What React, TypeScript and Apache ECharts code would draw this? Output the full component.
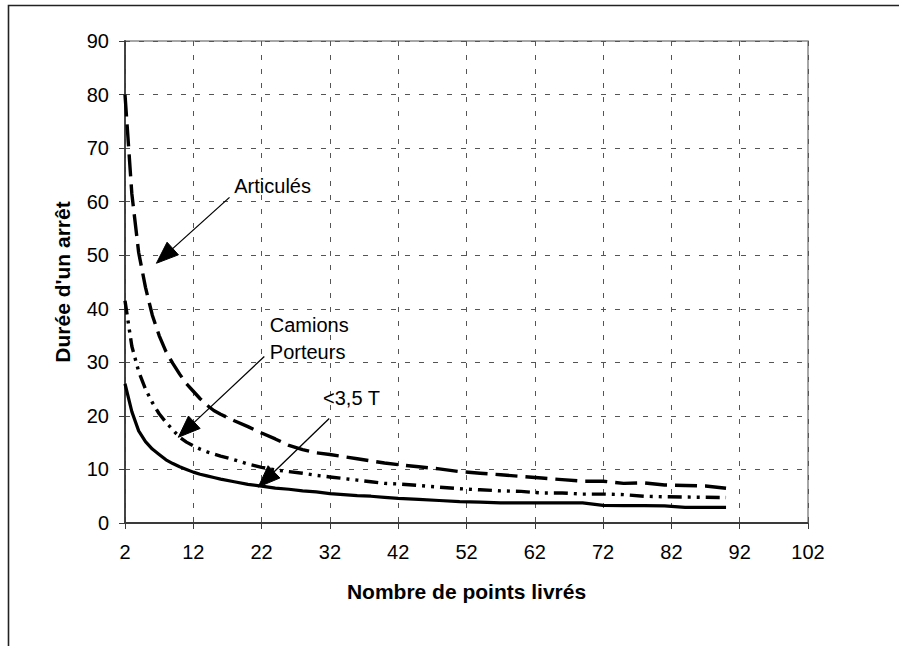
import React, { useEffect, useRef } from "react";
import * as echarts from "echarts";

// Nombre de points livrés
const xValues = [2, 3, 4, 5, 6, 7, 8, 9, 10, 11, 12, 13, 14, 15, 16, 18, 20, 22, 24, 26, 28, 30, 32, 34, 36, 38, 40, 42, 45, 48, 51, 54, 57, 60, 63, 66, 69, 72, 75, 78, 81, 84, 87, 90];

// Durée d'un arrêt – Articulés
const articules = [80, 61.5, 50.5, 44, 38.8, 35, 32, 29.8, 27.8, 26, 24.6, 23.2, 22, 21, 20.3, 19.1, 18.0, 16.8, 15.7, 14.5, 13.7, 13.1, 12.8, 12.4, 12.0, 11.6, 11.2, 10.9, 10.5, 10.1, 9.6, 9.3, 9.0, 8.7, 8.4, 8.1, 7.8, 7.8, 7.4, 7.5, 7.1, 7.0, 6.9, 6.5];

// Camions Porteurs
const camions = [41.5, 33, 28.3, 25, 22.5, 20.4, 18.8, 17.4, 16, 15.1, 14.4, 13.8, 13.3, 12.9, 12.5, 11.8, 11.0, 10.4, 9.9, 9.6, 9.3, 8.9, 8.6, 8.3, 8.0, 7.7, 7.4, 7.3, 7.0, 6.7, 6.4, 6.2, 6.0, 5.9, 5.6, 5.6, 5.4, 5.4, 5.3, 5.0, 4.9, 4.85, 4.8, 4.75];

// <3,5 T
const legers = [26, 20.8, 17.2, 15.2, 13.8, 12.8, 11.8, 11.1, 10.5, 10.0, 9.5, 9.1, 8.8, 8.5, 8.2, 7.7, 7.2, 6.9, 6.5, 6.3, 6.0, 5.8, 5.5, 5.3, 5.1, 5.0, 4.8, 4.6, 4.4, 4.2, 4.0, 3.9, 3.75, 3.75, 3.75, 3.75, 3.75, 3.3, 3.25, 3.25, 3.2, 2.9, 2.9, 2.9];

// Annotations (data coordinates)
const annotationTexts = [
  { lines: ["Articulés"], at: [18.0, 63.0] },
  { lines: ["Camions", "Porteurs"], at: [23.2, 36.9] },
  { lines: ["<3,5 T"], at: [31.0, 23.3] },
];
const annotationArrows = [
  { tail: [17.3, 60.8], tip: [6.6, 48.5] },
  { tail: [22.4, 31.1], tip: [9.8, 16.0] },
  { tail: [31.9, 19.5], tip: [21.5, 6.7] },
];

const FONT = '"Liberation Sans", Arial, sans-serif';

export default function App() {
  const ref = useRef<HTMLDivElement>(null);

  useEffect(() => {
    if (!ref.current) return;
    const chart = echarts.init(ref.current, undefined, { renderer: "svg" });

    const toPairs = (ys: number[]) => xValues.map((x, i) => [x, ys[i]]);

    const option: any = {
      animation: false,
      backgroundColor: "#ffffff",
      grid: {
        left: 125,
        top: 41,
        width: 683,
        height: 482,
        show: true,
        borderColor: "#8a8a8a",
        borderWidth: 1.5,
        backgroundColor: "transparent",
      },
      xAxis: {
        type: "value",
        min: 2,
        max: 102,
        interval: 10,
        name: "Nombre de points livrés",
        nameLocation: "middle",
        nameGap: 58,
        nameTextStyle: { fontFamily: FONT, fontSize: 21, fontWeight: "bold", color: "#000" },
        axisLine: { show: true, onZero: false, lineStyle: { color: "#3a3a3a", width: 1.8 } },
        axisTick: { show: true, inside: false, length: 6, lineStyle: { color: "#3a3a3a", width: 1 } },
        axisLabel: { fontFamily: FONT, fontSize: 20, color: "#000", margin: 19 },
        splitLine: { show: true, lineStyle: { color: "#555", width: 1, type: [5, 9] } },
      },
      yAxis: {
        type: "value",
        min: 0,
        max: 90,
        interval: 10,
        name: "Durée d'un arrêt",
        nameLocation: "middle",
        nameGap: 52,
        nameTextStyle: { fontFamily: FONT, fontSize: 21, fontWeight: "bold", color: "#000" },
        axisLine: { show: true, onZero: false, lineStyle: { color: "#3a3a3a", width: 1.8 } },
        axisTick: { show: true, inside: false, length: 6, lineStyle: { color: "#3a3a3a", width: 1 } },
        axisLabel: { fontFamily: FONT, fontSize: 20, color: "#000", margin: 16 },
        splitLine: { show: true, lineStyle: { color: "#555", width: 1, type: [5, 9] } },
      },
      series: [
        {
          name: "Articulés",
          type: "line",
          data: toPairs(articules),
          showSymbol: false,
          symbol: "none",
          lineStyle: { color: "#000", width: 3.4, type: [22, 8] },
          z: 3,
        },
        {
          name: "Camions Porteurs",
          type: "line",
          data: toPairs(camions),
          showSymbol: false,
          symbol: "none",
          lineStyle: { color: "#000", width: 3.4, type: [14, 6, 3, 6, 3, 6] },
          z: 3,
        },
        {
          name: "<3,5 T",
          type: "line",
          data: toPairs(legers),
          showSymbol: false,
          symbol: "none",
          lineStyle: { color: "#000", width: 3.2 },
          z: 3,
        },
      ],
    };

    chart.setOption(option);

    const px = (p: number[]) => chart.convertToPixel({ gridIndex: 0 }, p) as number[];
    const graphics: any[] = [];

    // outer frame (left and top edges visible)
    graphics.push({
      type: "rect",
      shape: { x: 8.5, y: 5.5, width: 896, height: 700 },
      style: { fill: "none", stroke: "#222", lineWidth: 1.6 },
      silent: true,
      z: 1,
    });

    annotationArrows.forEach((a) => {
      const t = px(a.tail);
      const p = px(a.tip);
      const dx = p[0] - t[0];
      const dy = p[1] - t[1];
      const len = Math.sqrt(dx * dx + dy * dy);
      const ux = dx / len;
      const uy = dy / len;
      const L = 22;
      const W = 17;
      const bx = p[0] - ux * L;
      const by = p[1] - uy * L;
      const nx = -uy;
      const ny = ux;
      graphics.push({
        type: "line",
        shape: { x1: t[0], y1: t[1], x2: bx + ux * 2, y2: by + uy * 2 },
        style: { stroke: "#000", lineWidth: 1.3 },
        z: 10,
      });
      graphics.push({
        type: "polygon",
        shape: {
          points: [
            [p[0], p[1]],
            [bx + (nx * W) / 2, by + (ny * W) / 2],
            [bx - (nx * W) / 2, by - (ny * W) / 2],
          ],
        },
        style: { fill: "#000", stroke: "#000", lineWidth: 1 },
        z: 10,
      });
    });

    annotationTexts.forEach((a) => {
      const p = px(a.at);
      a.lines.forEach((line, i) => {
        graphics.push({
          type: "text",
          x: p[0],
          y: p[1] + i * 27,
          style: {
            text: line,
            font: `20px ${FONT}`,
            fill: "#000",
            align: "left",
            verticalAlign: "middle",
          },
          z: 10,
        });
      });
    });

    chart.setOption({ graphic: graphics });

    return () => {
      chart.dispose();
    };
  }, []);

  return (
    <div
      ref={ref}
      style={{ position: "absolute", left: 0, top: 0, width: 899, height: 646, background: "#fff" }}
    />
  );
}
